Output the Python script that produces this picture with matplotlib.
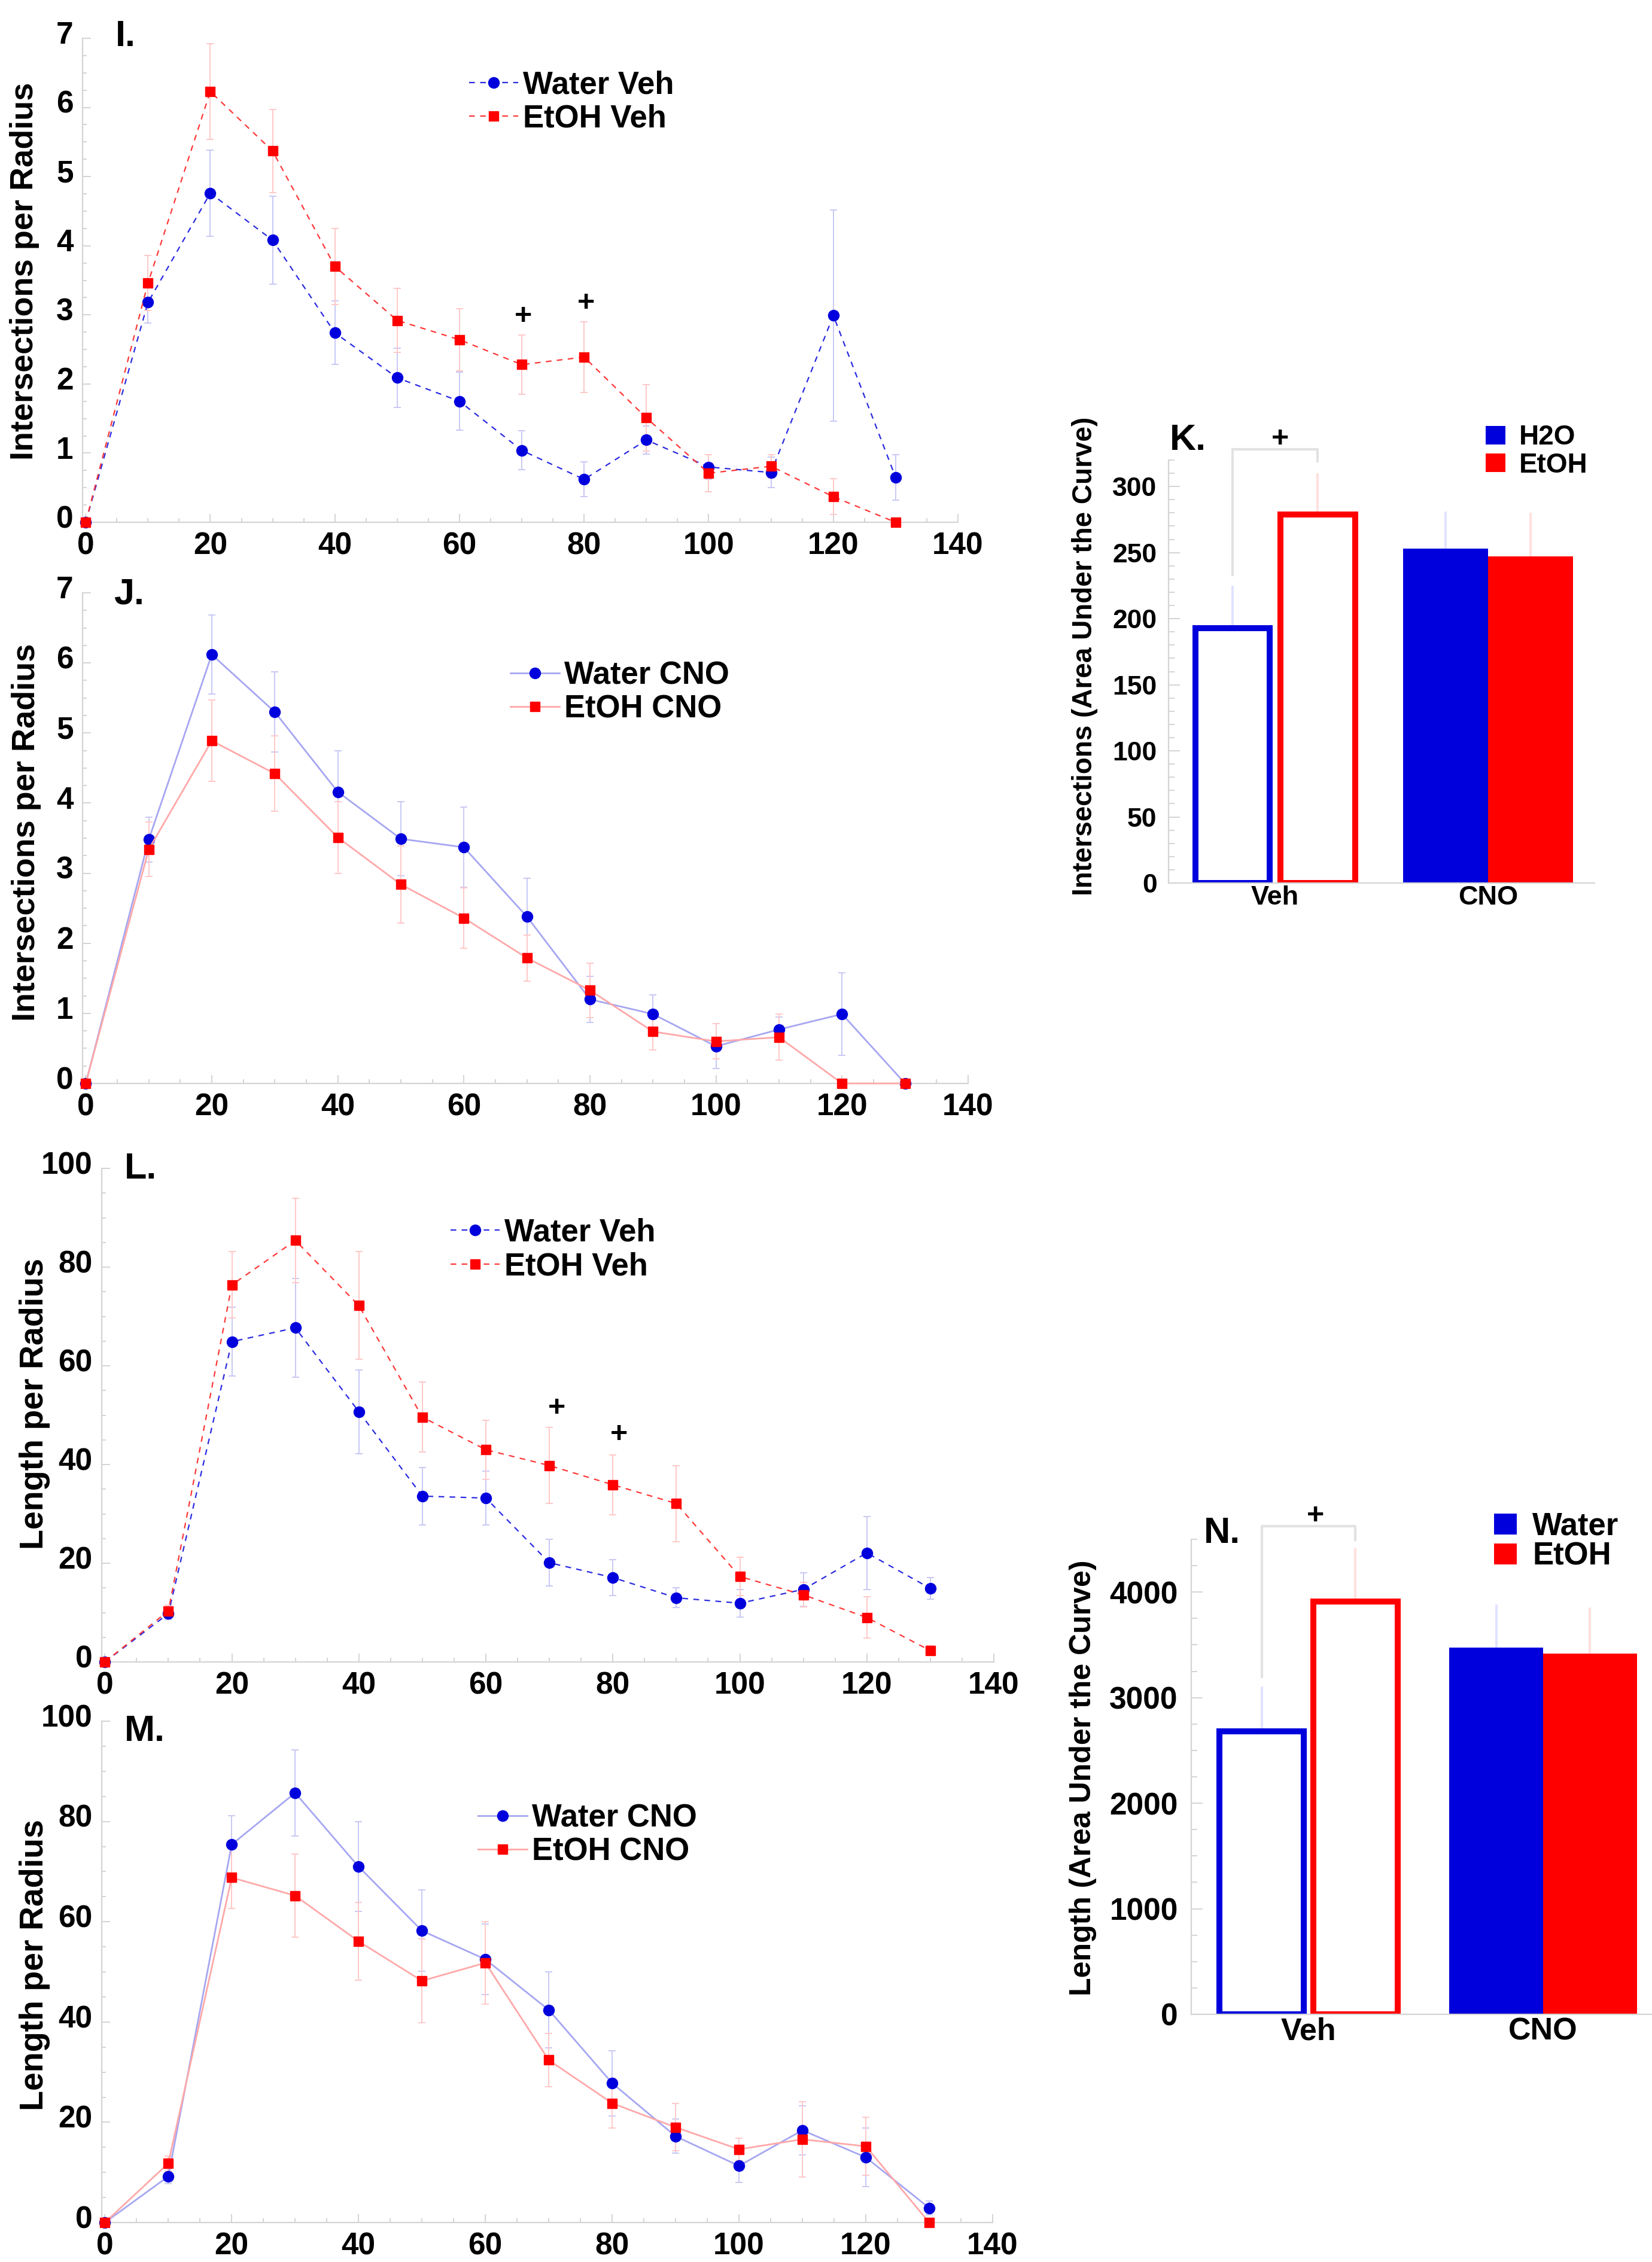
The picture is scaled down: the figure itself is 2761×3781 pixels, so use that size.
import numpy as np
import matplotlib
matplotlib.use("Agg")
import matplotlib.pyplot as plt
from matplotlib.lines import Line2D
from matplotlib.patches import Patch
from matplotlib.ticker import MultipleLocator
from matplotlib.transforms import ScaledTranslation

plt.rcParams['font.family'] = ['Liberation Sans', 'DejaVu Sans']
plt.rcParams['font.weight'] = 'bold'

W, H = 2761, 3781

radius = np.arange(0, 140, 10)

# I. intersections per radius, vehicle
int_water_veh = [0, 3.18, 4.76, 4.08, 2.74, 2.09, 1.75, 1.04, 0.62, 1.19, 0.80, 0.72, 2.99, 0.65]
int_water_veh_err = [0, 0.30, 0.62, 0.64, 0.46, 0.43, 0.42, 0.28, 0.25, 0.20, 0.18, 0.22, 1.53, 0.33]
int_etoh_veh = [0, 3.46, 6.23, 5.37, 3.70, 2.92, 2.64, 2.28, 2.39, 1.51, 0.71, 0.81, 0.37, 0]
int_etoh_veh_err = [0, 0.40, 0.69, 0.60, 0.55, 0.46, 0.45, 0.43, 0.51, 0.48, 0.27, 0.17, 0.26, 0]

# J. intersections per radius, CNO
int_water_cno = [0, 3.48, 6.12, 5.30, 4.16, 3.49, 3.37, 2.38, 1.20, 0.99, 0.53, 0.77, 0.99, 0]
int_water_cno_err = [0, 0.32, 0.56, 0.57, 0.59, 0.53, 0.57, 0.55, 0.33, 0.27, 0.32, 0.18, 0.59, 0]
int_etoh_cno = [0, 3.34, 4.89, 4.42, 3.51, 2.84, 2.36, 1.79, 1.33, 0.74, 0.60, 0.66, 0, 0]
int_etoh_cno_err = [0, 0.39, 0.58, 0.54, 0.51, 0.55, 0.43, 0.33, 0.39, 0.26, 0.25, 0.33, 0, 0]

# L. length per radius, vehicle
len_water_veh = [0, 9.8, 64.9, 67.7, 50.7, 33.6, 33.2, 20.1, 17.1, 13.0, 11.9, 14.7, 22.1, 14.9]
len_water_veh_err = [0, 1.2, 7.0, 10.0, 8.5, 5.8, 5.5, 4.7, 3.6, 2.0, 2.8, 3.4, 7.4, 2.2]
len_etoh_veh = [0, 10.35, 76.4, 85.4, 72.2, 49.6, 43.0, 39.8, 35.9, 32.1, 17.3, 13.6, 9.0, 2.3]
len_etoh_veh_err = [0, 1.2, 6.7, 8.6, 10.9, 7.1, 6.0, 7.7, 6.1, 7.7, 3.9, 2.5, 4.2, 1.0]

# M. length per radius, CNO
len_water_cno = [0, 9.2, 75.4, 85.7, 71.0, 58.2, 52.5, 42.4, 27.8, 17.2, 11.3, 18.4, 13.0, 2.9]
len_water_cno_err = [0, 1.5, 5.7, 8.6, 8.9, 8.1, 7.0, 7.6, 6.5, 3.4, 3.3, 4.9, 5.8, 1.4]
len_etoh_cno = [0, 11.8, 68.8, 65.2, 56.1, 48.2, 51.8, 32.4, 23.8, 19.0, 14.6, 16.6, 15.2, 0]
len_etoh_cno_err = [0, 1.5, 6.1, 8.3, 7.8, 8.4, 8.2, 5.3, 4.9, 4.7, 2.2, 7.5, 5.8, 0]

# K / N. area under the curve
groups = ['Veh', 'CNO']
auc_int_water = [193, 253]
auc_int_water_err = [32, 28]
auc_int_etoh = [279, 247]
auc_int_etoh_err = [31, 33]
auc_len_water = [2680, 3474]
auc_len_water_err = [428, 409]
auc_len_etoh = [3910, 3415]
auc_len_etoh_err = [503, 439]

BLUE = '#0000dd'
RED = '#ff0000'
GRID = '#d4d4d4'

fig = plt.figure(figsize=(W / 100, H / 100), dpi=100)


def px_rect(left, top, right, bottom):
    return [left / W, 1 - bottom / H, (right - left) / W, (bottom - top) / H]


def style_axes(ax, labelsize, ypad, xpad, yoff):
    for s in ['top', 'right']:
        ax.spines[s].set_visible(False)
    for s in ['left', 'bottom']:
        ax.spines[s].set_color(GRID)
        ax.spines[s].set_linewidth(1.6)
    ax.tick_params(which='both', direction='in', color=GRID, width=1.4)
    ax.tick_params(which='major', length=10)
    ax.tick_params(which='minor', length=5)
    ax.tick_params(axis='y', labelsize=labelsize, pad=ypad)
    ax.tick_params(axis='x', labelsize=labelsize, pad=xpad)
    off = ScaledTranslation(0, yoff / 72, fig.dpi_scale_trans)
    for lab in ax.get_yticklabels():
        lab.set_transform(lab.get_transform() + off)
        lab.set_fontweight('bold')
    for lab in ax.get_xticklabels():
        lab.set_fontweight('bold')


def line_panel(rect, wy, we, ey, ee, dashed, ymax, ymaj, ymin, labels, leg_xy):
    ax = fig.add_axes(px_rect(*rect))
    if dashed:
        cb, cr, ls, lw = '#2a2ae2', '#ff3838', (0, (4.3, 4)), 1.6
    else:
        cb, cr, ls, lw = '#a6a6f2', '#ffa8a8', '-', 2.0
    ax.errorbar(radius, wy, yerr=we, fmt='none', ecolor='#c8c8f5', elinewidth=1.4,
                capsize=4.5, capthick=1.4, zorder=2, clip_on=False)
    ax.errorbar(radius, ey, yerr=ee, fmt='none', ecolor='#ffc8c8', elinewidth=1.4,
                capsize=4.5, capthick=1.4, zorder=2, clip_on=False)
    ax.plot(radius, wy, linestyle=ls, color=cb, lw=lw, marker='o', ms=13,
            mfc=BLUE, mec=BLUE, zorder=3, clip_on=False)
    ax.plot(radius, ey, linestyle=ls, color=cr, lw=lw, marker='s', ms=12,
            mfc=RED, mec=RED, zorder=4, clip_on=False)
    ax.set_xlim(-0.5, 140)
    ax.set_ylim(0, ymax)
    ax.xaxis.set_major_locator(MultipleLocator(20))
    ax.xaxis.set_minor_locator(MultipleLocator(5))
    ax.yaxis.set_major_locator(MultipleLocator(ymaj))
    ax.yaxis.set_minor_locator(MultipleLocator(ymin))
    style_axes(ax, 37, 11, 11, 7)
    handles = [Line2D([], [], linestyle=ls, color=cb, lw=lw, marker='o', ms=13, mfc=BLUE, mec=BLUE),
               Line2D([], [], linestyle=ls, color=cr, lw=lw, marker='s', ms=12, mfc=RED, mec=RED)]
    ax.legend(handles, labels, loc='center left', bbox_to_anchor=leg_xy, frameon=False,
              handlelength=1.55, handletextpad=0.15, labelspacing=0.12,
              borderpad=0, borderaxespad=0,
              prop={'weight': 'bold', 'size': 38})
    return ax


axI = line_panel((138, 64, 1601, 873), int_water_veh, int_water_veh_err, int_etoh_veh,
                 int_etoh_veh_err, True, 7, 1, 0.25, ['Water Veh', 'EtOH Veh'], (0.4416, 0.868))
axJ = line_panel((138, 991, 1618, 1811), int_water_cno, int_water_cno_err, int_etoh_cno,
                 int_etoh_cno_err, False, 7, 1, 0.25, ['Water CNO', 'EtOH CNO'], (0.483, 0.797))
axL = line_panel((170, 1953, 1661, 2778), len_water_veh, len_water_veh_err, len_etoh_veh,
                 len_etoh_veh_err, True, 100, 20, 5, ['Water Veh', 'EtOH Veh'], (0.391, 0.835))
axM = line_panel((170, 2877, 1659, 3715), len_water_cno, len_water_cno_err, len_etoh_cno,
                 len_etoh_cno_err, False, 100, 20, 5, ['Water CNO', 'EtOH CNO'], (0.4224, 0.773))

# significance marks on the curves
for xs, ys in [(70.2, 2.98), (80.3, 3.17)]:
    axI.text(xs, ys, '+', ha='center', va='center', fontsize=36, fontweight='bold')
for xs, ys in [(71.2, 51.4), (81.0, 46.1)]:
    axL.text(xs, ys, '+', ha='center', va='center', fontsize=36, fontweight='bold')


def bar_panel(rect, water, water_err, etoh, etoh_err, ymax, ymaj, ymin, fs, ypad,
              outline_w, bracket, plus_xy, leg_labels, leg_xy, leg_fs, leg_sp):
    ax = fig.add_axes(px_rect(*rect))
    x = np.arange(len(groups))
    xw = x - 0.2
    xe = x + 0.2
    ax.errorbar(xw, water, yerr=[[0, 0], water_err], fmt='none', ecolor='#e2e2ff',
                elinewidth=3, capsize=0, zorder=1)
    ax.errorbar(xe, etoh, yerr=[[0, 0], etoh_err], fmt='none', ecolor='#ffe0e0',
                elinewidth=3, capsize=0, zorder=1)
    # vehicle bars: outline only, CNO bars: filled
    ax.bar(xw[0], water[0], width=outline_w, facecolor='white', edgecolor=BLUE, lw=7.2, zorder=2)
    ax.bar(xe[0], etoh[0], width=outline_w, facecolor='white', edgecolor=RED, lw=7.2, zorder=2)
    ax.bar(xw[1], water[1], width=0.4, color=BLUE, lw=0, zorder=2)
    ax.bar(xe[1], etoh[1], width=0.4, color=RED, lw=0, zorder=2)
    ax.set_xlim(-0.5, 1.5)
    ax.set_ylim(0, ymax)
    ax.set_xticks(x)
    ax.set_xticklabels(groups)
    ax.yaxis.set_major_locator(MultipleLocator(ymaj))
    ax.yaxis.set_minor_locator(MultipleLocator(ymin))
    style_axes(ax, fs, ypad, 3, 6)
    ax.tick_params(axis='x', length=0, labelsize=fs + 0.5)
    ax.tick_params(axis='y', which='major', length=14)
    ax.tick_params(axis='y', which='minor', length=7)
    leg_l, top, leg_r = bracket
    ax.plot([xw[0], xw[0], xe[0], xe[0]], [leg_l, top, top, leg_r], color='#e2e2e2',
            lw=3, clip_on=False, zorder=1)
    ax.text(plus_xy[0], plus_xy[1], '+', ha='center', va='center', fontsize=36,
            fontweight='bold', clip_on=False)
    handles = [Patch(facecolor=BLUE, lw=0), Patch(facecolor=RED, lw=0)]
    ax.legend(handles, leg_labels, loc='center left', bbox_to_anchor=leg_xy, frameon=False,
              handlelength=0.72, handleheight=0.65, handletextpad=0.5, labelspacing=leg_sp,
              borderpad=0, borderaxespad=0, prop={'weight': 'bold', 'size': leg_fs})
    return ax


axK = bar_panel((1953, 769, 2665, 1476), auc_int_water, auc_int_water_err, auc_int_etoh,
                auc_int_etoh_err, 320, 50, 10, 32, 14, 0.35, (233, 328, 319), (0.025, 336),
                ['H2O', 'EtOH'], (0.744, 1.0205), 33, 0.05)
axN = bar_panel((1991, 2573, 2775, 3367), auc_len_water, auc_len_water_err, auc_len_etoh,
                auc_len_etoh_err, 4500, 1000, 250, 37, 16, 0.36, (3197, 4626, 4495), (0.03, 4722),
                ['Water', 'EtOH'], (0.645, 0.995), 38, 0.0)

# axis titles
ylabels = [
    ('Intersections per Radius', 41, 453, 39),
    ('Intersections per Radius', 44, 1391, 39),
    ('Length per Radius', 58, 2346, 40),
    ('Length per Radius', 58, 3285, 40),
    ('Intersections (Area Under the Curve)', 1813, 1097, 33),
    ('Length (Area Under the Curve)', 1810, 2972, 36),
]
for txt, xp, yp, fs in ylabels:
    fig.text(xp / W, 1 - yp / H, txt, rotation=90, ha='center', va='center',
             fontsize=fs, fontweight='bold')

# panel letters
letters = [('I.', 193, 77), ('J.', 190, 1010), ('K.', 1955, 752),
           ('L.', 208, 1970), ('M.', 208, 2910), ('N.', 2012, 2579)]
for txt, xp, yp in letters:
    fig.text(xp / W, 1 - yp / H, txt, ha='left', va='baseline', fontsize=44, fontweight='bold')

fig.savefig('out.png', dpi=100, facecolor='white')
